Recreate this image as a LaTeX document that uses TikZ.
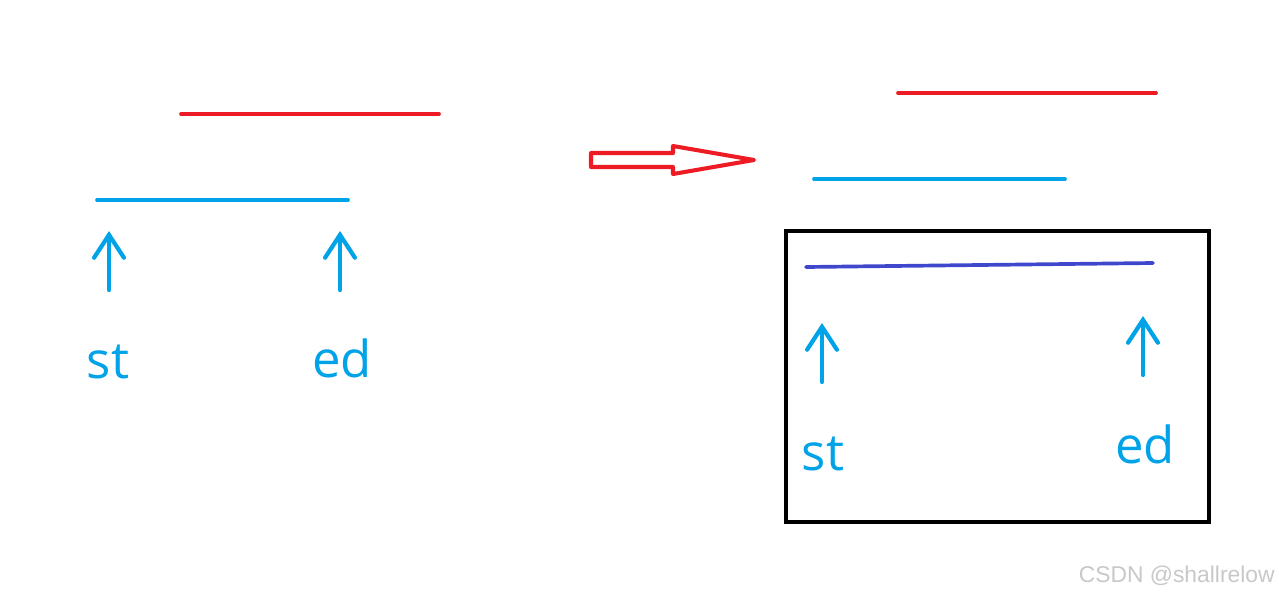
\documentclass[tikz,border=0pt]{standalone}
\usepackage{fontspec}
\setmainfont{Open Sans}
\newfontfamily\markfont{Liberation Sans}
\usetikzlibrary{arrows.meta,positioning}
\definecolor{segRed}{RGB}{237,28,36}
\definecolor{segBlue}{RGB}{0,162,232}
\definecolor{segMerge}{RGB}{63,72,204}
\definecolor{markGray}{RGB}{200,200,200}
\tikzset{
  seg/.style={line width=2.1pt,line cap=round},
  ptr/.style={segBlue,line width=2.4pt,line cap=round,
    -{Straight Barb[length=13pt,width=17pt,line cap=round]}},
  lbl/.style={segBlue,font=\fontsize{29}{32}\selectfont,anchor=base,inner sep=0pt},
}

\begin{document}
\begin{tikzpicture}[x=0.02cm,y=-0.02cm]
  \useasboundingbox (0,0) rectangle (1279,596);
  % before: two intervals
  \draw[seg,segRed]  (181,114) -- (439,114);
  \draw[seg,segBlue] (97,200) -- (348,200);
  \node[lbl] (st1) at (108,378) {st};
  \node[lbl] (ed1) at (342,377) {ed};
  \coordinate (st1top) at (109,231);
  \coordinate (ed1top) at (340,231);
  \draw[ptr] (109,290) -- (st1top);
  \draw[ptr] (340,290) -- (ed1top);
  % hollow arrow
  \draw[segRed,line width=2.3pt,line join=round]
    (591,153) -- (673,153) -- (673,146) -- (754,160) -- (673,174)
    -- (673,167) -- (591,167) -- cycle;
  % after: merged
  \draw[seg,segRed]  (898,93) -- (1156,93);
  \draw[seg,segBlue] (814,179) -- (1065,179);
  \draw[line width=2.4pt] (786,231) rectangle (1209,522);
  \draw[seg,segMerge] (806,267) -- (1153,263);
  \node[lbl] (st2) at (823,470) {st};
  \node[lbl] (ed2) at (1145,463) {ed};
  \coordinate (st2top) at (822,323);
  \coordinate (ed2top) at (1143,316);
  \draw[ptr] (822,382) -- (st2top);
  \draw[ptr] (1143,375) -- (ed2top);
  \node[markGray,font=\markfont\fontsize{13}{15}\selectfont,anchor=base east,
    inner sep=0pt] (mark) at (1275,582) {CSDN @shallrelow};
\end{tikzpicture}
\end{document}
